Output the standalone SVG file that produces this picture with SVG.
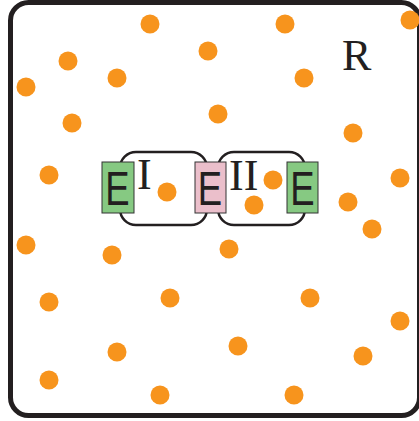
<svg xmlns="http://www.w3.org/2000/svg" width="419" height="421" viewBox="0 0 419 421">
<style>
.frame{fill:#fff;stroke:#231f20;stroke-width:5}
.dot{fill:#f7941d}
.cell{fill:#fff;stroke:#231f20;stroke-width:2.5}
.eg{fill:#86c982;stroke:#333;stroke-width:1}
.ep{fill:#ebbfcb;stroke:#333;stroke-width:1}
.e{font-family:"Liberation Sans",Arial,sans-serif;font-size:49px;fill:#231f20;text-anchor:middle}
.lbl{font-family:"Liberation Serif","Times New Roman",serif;font-size:44px;fill:#231f20}
</style>
<rect class="frame" x="10.5" y="2.5" width="409" height="413" rx="18"/>
<g id="particles">
<circle class="dot" cx="150" cy="24" r="9.5"/>
<circle class="dot" cx="285" cy="24" r="9.5"/>
<circle class="dot" cx="410" cy="20" r="9.5"/>
<circle class="dot" cx="68" cy="61" r="9.5"/>
<circle class="dot" cx="208" cy="51" r="9.5"/>
<circle class="dot" cx="117" cy="78" r="9.5"/>
<circle class="dot" cx="304" cy="78" r="9.5"/>
<circle class="dot" cx="26" cy="87" r="9.5"/>
<circle class="dot" cx="72" cy="123" r="9.5"/>
<circle class="dot" cx="218" cy="114" r="9.5"/>
<circle class="dot" cx="353" cy="133" r="9.5"/>
<circle class="dot" cx="49" cy="175" r="9.5"/>
<circle class="dot" cx="400" cy="178" r="9.5"/>
<circle class="dot" cx="348" cy="202" r="9.5"/>
<circle class="dot" cx="372" cy="229" r="9.5"/>
<circle class="dot" cx="26" cy="245" r="9.5"/>
<circle class="dot" cx="112" cy="255" r="9.5"/>
<circle class="dot" cx="229" cy="249" r="9.5"/>
<circle class="dot" cx="49" cy="302" r="9.5"/>
<circle class="dot" cx="170" cy="298" r="9.5"/>
<circle class="dot" cx="310" cy="298" r="9.5"/>
<circle class="dot" cx="400" cy="321" r="9.5"/>
<circle class="dot" cx="117" cy="352" r="9.5"/>
<circle class="dot" cx="238" cy="346" r="9.5"/>
<circle class="dot" cx="363" cy="356" r="9.5"/>
<circle class="dot" cx="49" cy="380" r="9.5"/>
<circle class="dot" cx="160" cy="395" r="9.5"/>
<circle class="dot" cx="294" cy="395" r="9.5"/>
</g>
<text class="lbl" x="342" y="70" font-size="48">R</text>
<g id="cellI">
<rect class="cell" x="120" y="152" width="87" height="73" rx="16"/>
<text class="lbl" x="137" y="189">I</text>
<circle class="dot" cx="167" cy="192" r="9.5"/>
</g>
<g id="cellII">
<rect class="cell" x="218" y="152" width="87" height="73" rx="16"/>
<text class="lbl" x="229" y="190">II</text>
<circle class="dot" cx="273" cy="180" r="9.5"/>
<circle class="dot" cx="254" cy="205" r="9.5"/>
</g>
<g id="E1">
<rect class="eg" x="102" y="162" width="32" height="51"/>
<text class="e" transform="translate(117.5,205) scale(0.745,1)">E</text>
</g>
<g id="E2">
<rect class="ep" x="195" y="162" width="31" height="51"/>
<text class="e" transform="translate(210,205) scale(0.745,1)">E</text>
</g>
<g id="E3">
<rect class="eg" x="287" y="162" width="31" height="51"/>
<text class="e" transform="translate(302.5,205) scale(0.745,1)">E</text>
</g>
<g id="connectors"/>
</svg>
